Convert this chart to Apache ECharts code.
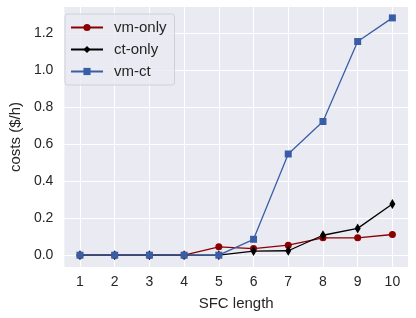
<!DOCTYPE html>
<html><head><meta charset="utf-8">
<script src="https://cdn.jsdelivr.net/npm/echarts@6/dist/echarts.min.js"></script>
<style>html,body{margin:0;padding:0;background:#fff}#c{width:416px;height:318px}</style>
</head><body><div id="c"></div>
<script>
const categories = [1, 2, 3, 4, 5, 6, 7, 8, 9, 10];
const vmOnly = [0, 0, 0, 0, 0.045, 0.036, 0.054, 0.094, 0.094, 0.112];
const ctOnly = [0, 0, 0, 0, 0, 0.022, 0.024, 0.108, 0.145, 0.277];
const vmCt = [0, 0, 0, 0, 0, 0.086, 0.548, 0.724, 1.157, 1.285];
const yTicks = [0, 0.2, 0.4, 0.6, 0.8, 1.0, 1.2];

const font = 'Liberation Sans, Arial, sans-serif';
const pair = arr => categories.map((c, i) => [c, arr[i]]);

const chart = echarts.init(document.getElementById('c'), null, {renderer: 'canvas'});
chart.setOption({
  animation: false,
  backgroundColor: '#ffffff',
  grid: {left: 58, right: 8, top: 7, bottom: 51, show: true, backgroundColor: '#EAEAF2', borderWidth: 0},
  legend: {
    left: 65, top: 14, orient: 'vertical',
    itemWidth: 32, itemHeight: 9, itemGap: 7,
    padding: [6, 8, 6, 5],
    backgroundColor: 'rgba(234,234,242,0.8)', borderColor: '#d0d0d8', borderWidth: 1, borderRadius: 3,
    textStyle: {fontFamily: font, fontSize: 15, color: '#262626', padding: [0, 0, 0, 6]},
    data: ['vm-only', 'ct-only', 'vm-ct']
  },
  xAxis: {
    type: 'value', min: 0.55, max: 10.45,
    name: 'SFC length', nameLocation: 'middle', nameGap: 29.5,
    nameTextStyle: {fontFamily: font, fontSize: 15, color: '#262626'},
    axisLine: {show: false}, axisTick: {show: false, customValues: categories},
    axisLabel: {customValues: categories, fontFamily: font, fontSize: 14, color: '#262626', margin: 8},
    splitLine: {show: true, lineStyle: {color: '#ffffff', width: 1}}
  },
  yAxis: {
    type: 'value', min: -0.064, max: 1.344,
    name: 'costs ($/h)', nameLocation: 'middle', nameGap: 36,
    nameTextStyle: {fontFamily: font, fontSize: 15, color: '#262626'},
    axisLine: {show: false}, axisTick: {show: false, customValues: yTicks},
    axisLabel: {customValues: yTicks, fontFamily: font, fontSize: 14, color: '#262626', margin: 11,
      formatter: v => v.toFixed(1)},
    splitLine: {show: true, lineStyle: {color: '#ffffff', width: 1}}
  },
  series: [
    {name: 'vm-only', type: 'line', data: pair(vmOnly), symbol: 'circle', symbolSize: 7,
      itemStyle: {color: '#8B0000'}, lineStyle: {color: '#8B0000', width: 1.3}},
    {name: 'ct-only', type: 'line', data: pair(ctOnly), symbol: 'diamond', symbolSize: [6, 10],
      itemStyle: {color: '#000000'}, lineStyle: {color: '#000000', width: 1.3}},
    {name: 'vm-ct', type: 'line', data: pair(vmCt), symbol: 'rect', symbolSize: 7,
      itemStyle: {color: '#3A5EA6'}, lineStyle: {color: '#3A5EA6', width: 1.3}}
  ]
});
</script></body></html>
